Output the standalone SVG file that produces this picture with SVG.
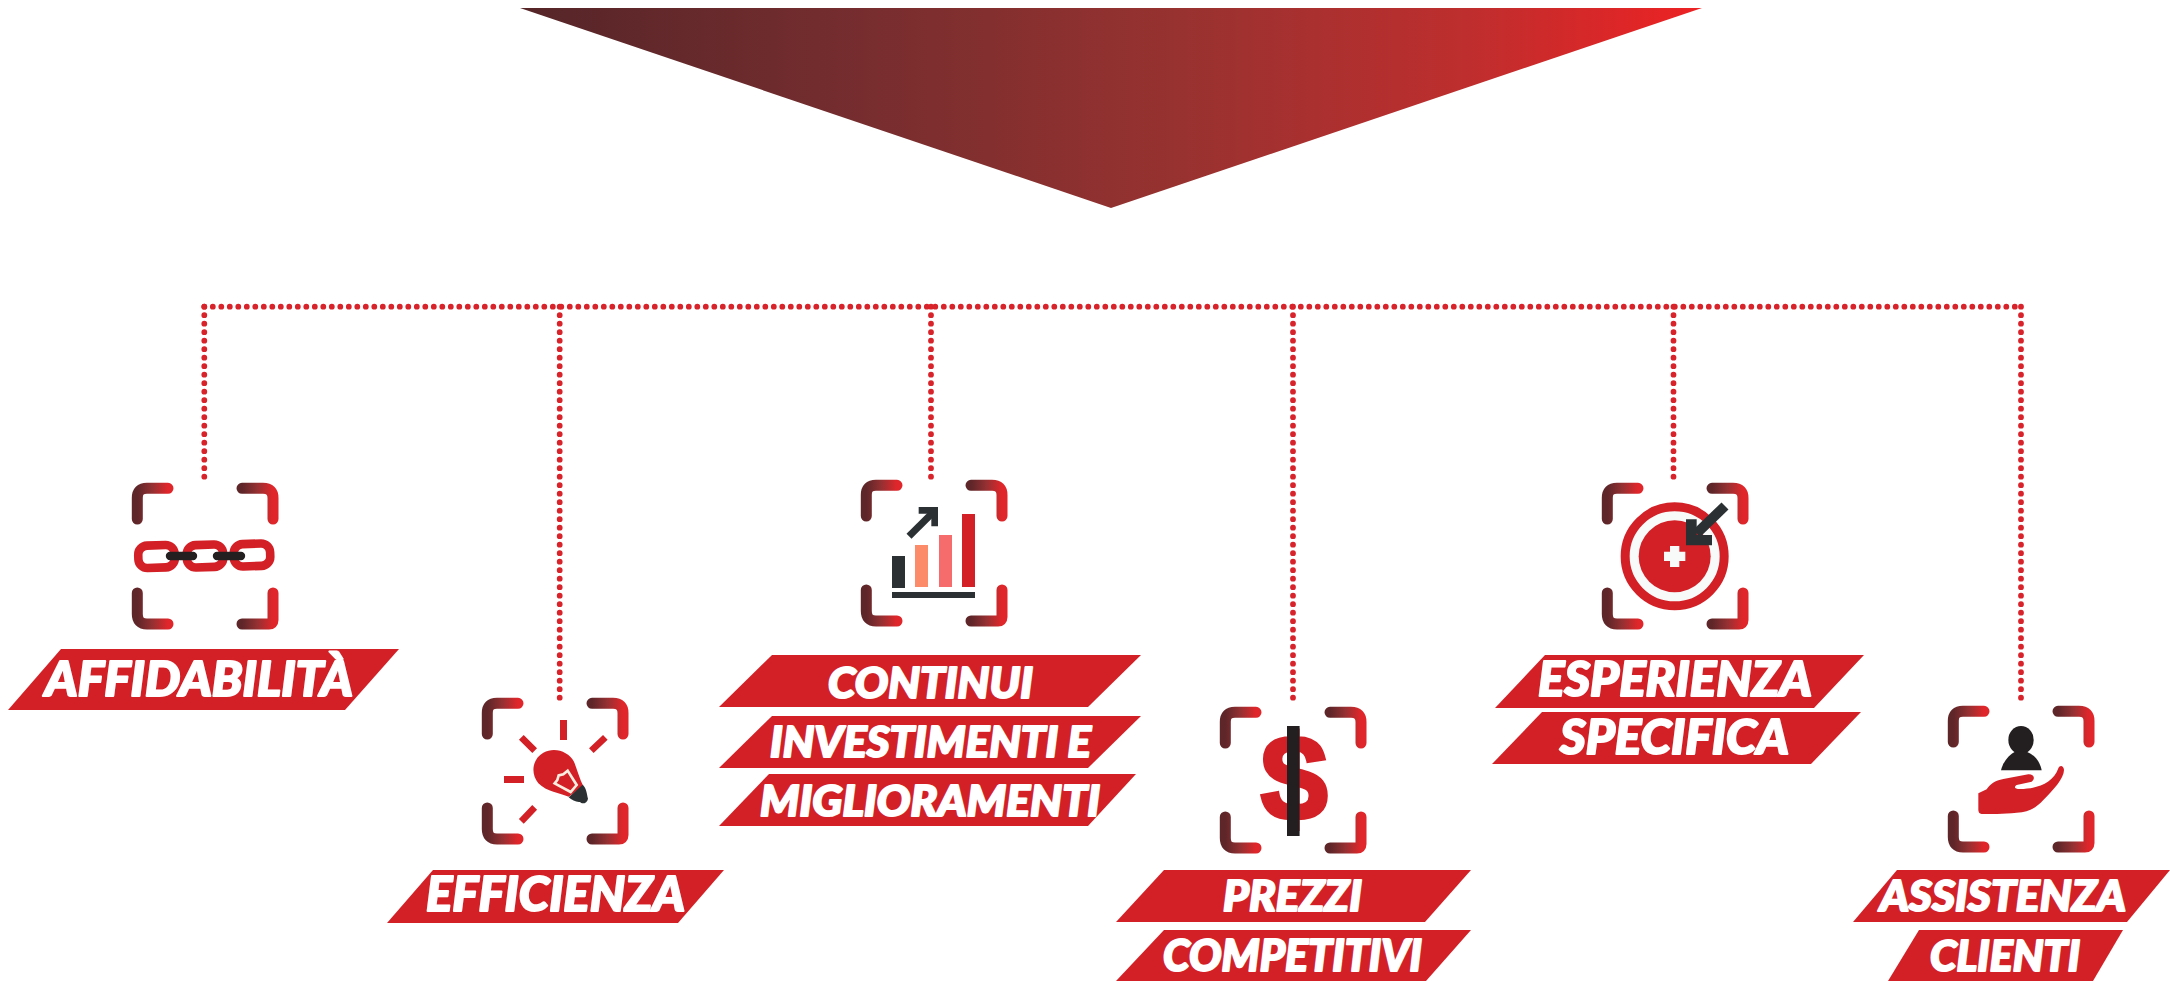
<svg xmlns="http://www.w3.org/2000/svg" xmlns:xlink="http://www.w3.org/1999/xlink" width="2170" height="981" viewBox="0 0 2170 981">
<style>
.band{fill:#d32026}
.lbl{font-family:"Lato","Roboto","Liberation Sans",sans-serif;font-weight:900;font-style:italic;fill:#fff;stroke:#fff;stroke-width:2;stroke-linejoin:round;text-anchor:start}
.corner{fill:none;stroke:url(#cg);stroke-width:11;stroke-linecap:round}
.dots{fill:none;stroke:#d9232b;stroke-width:5.8;stroke-linecap:round;stroke-dasharray:0 8.5}
.red{fill:#d32026}
.dark{fill:#2b3133}
.blk{fill:#231f20}
</style>
<defs>
<linearGradient id="tg" x1="0" x2="1" y1="0" y2="0"><stop offset="0" stop-color="#552528"/><stop offset=".25" stop-color="#722c2e"/><stop offset=".55" stop-color="#963230"/><stop offset=".8" stop-color="#be2e2e"/><stop offset="1" stop-color="#ed2224"/></linearGradient>
<linearGradient id="cg" x1="0" x2="1" y1="0" y2="0"><stop offset="0" stop-color="#5e2629"/><stop offset=".5" stop-color="#963032"/><stop offset="1" stop-color="#e0262a"/></linearGradient>
<g id="frame">
<path class="corner" d="M5.3 36V15Q5.3 5.3 15 5.3H36"/>
<path class="corner" d="M110 5.3H131Q141 5.3 141 15V36"/>
<path class="corner" d="M5.3 110V131Q5.3 141 15 141H36"/>
<path class="corner" d="M110 141H137Q141 141 141 137V110"/>
</g>
</defs>
<rect width="2170" height="981" fill="#fff"/>
<polygon id="top-triangle" points="520,8 1702,8 1111,208" fill="url(#tg)"/>
<g id="connectors">
<path class="dots" d="M204.3 306.7H2021"/>
<path class="dots" d="M204.3 306.7V477"/>
<path class="dots" d="M559.7 306.7V699"/>
<path class="dots" d="M931 306.7V477"/>
<path class="dots" d="M1293 306.7V699"/>
<path class="dots" d="M1673.5 306.7V477"/>
<path class="dots" d="M2021 306.7V699"/>
</g>
<g id="node-affidabilita">
<use xlink:href="#frame" href="#frame" transform="translate(132,483)"/>
<g fill="none" stroke="#d32026" stroke-width="8.6">
<rect x="138.3" y="545.3" width="36.4" height="22.4" rx="9" transform="rotate(-2 156.5 556.5)"/>
<rect x="186.8" y="544.8" width="36.4" height="22.4" rx="9" transform="rotate(-2 205 556)"/>
<rect x="233.8" y="543.8" width="36.4" height="22.4" rx="9" transform="rotate(-2 252 555)"/>
</g>
<path d="M170 556H193M217 556H241" stroke="#231f20" stroke-width="8.4" stroke-linecap="round" fill="none"/>
<polygon class="band" points="61,649 399,649 345,710 8,710"/>
<text class="lbl" x="45" y="696" font-size="47" textLength="308" lengthAdjust="spacingAndGlyphs">AFFIDABILITÀ</text>
</g>
<g id="node-efficienza">
<use xlink:href="#frame" href="#frame" transform="translate(482,698)"/>
<g transform="translate(380,680) scale(.33333)">
<rect class="red" x="540" y="120" width="21" height="60"/>
<rect class="red" x="372" y="288" width="60" height="21"/>
<path d="M424 172L464 212M676 172L634 212M464 382L424 424" stroke="#d32026" stroke-width="20" fill="none"/>
<path class="red" d="M566 350C540 340 500 335 475 310C450 280 458 235 490 218C525 200 565 215 582 245C590 265 600 300 610 318Z"/>
<path d="M524 310L532 300L536 286L550 283L563 272L590 315L572 336Z" fill="none" stroke="#fbeee0" stroke-width="8"/>
<path class="dark" d="M566 352L608 314C620 325 620 340 624 356C622 370 606 374 600 366C590 368 575 360 566 352Z"/>
</g>
<polygon class="band" points="433,870 724,870 678,923 387,923"/>
<text class="lbl" x="426" y="911" font-size="48" textLength="259" lengthAdjust="spacingAndGlyphs">EFFICIENZA</text>
</g>
<g id="node-continui">
<use xlink:href="#frame" href="#frame" transform="translate(861,480)"/>
<g transform="translate(710,460) scale(.33333)">
<rect class="dark" x="546" y="288" width="39" height="96"/>
<rect x="615" y="255" width="39" height="126" fill="#fc8b6a"/>
<rect x="687" y="225" width="39" height="156" fill="#f66b6b"/>
<rect class="red" x="756" y="162" width="39" height="219"/>
<rect class="dark" x="546" y="396" width="249" height="18"/>
<path d="M597 229L668 158" stroke="#2b3133" stroke-width="21" fill="none"/>
<path class="dark" d="M626 141H684V199H664V161H626Z"/>
</g>
<polygon class="band" points="772,655 1141,655 1088,707 719,707"/>
<polygon class="band" points="772,716 1141,716 1088,768 719,768"/>
<polygon class="band" points="769,774 1136,774 1088,826 719,826"/>
<text class="lbl" x="828" y="698" font-size="42" textLength="205" lengthAdjust="spacingAndGlyphs">CONTINUI</text>
<text class="lbl" x="770" y="757" font-size="42" textLength="321" lengthAdjust="spacingAndGlyphs">INVESTIMENTI E</text>
<text class="lbl" x="760" y="816" font-size="42" textLength="340" lengthAdjust="spacingAndGlyphs">MIGLIORAMENTI</text>
</g>
<g id="node-prezzi">
<use xlink:href="#frame" href="#frame" transform="translate(1220,707)"/>
<text x="1294" y="820" font-family="'Liberation Sans',sans-serif" font-weight="700" font-size="120" fill="#d32026" text-anchor="middle" stroke="#d32026" stroke-width="4">$</text>
<rect class="blk" x="1287" y="726" width="12.6" height="110"/>
<polygon class="band" points="1164,870 1471,870 1425,922 1116,922"/>
<polygon class="band" points="1164,930 1471,930 1426,981 1116,981"/>
<text class="lbl" x="1223" y="911" font-size="42" textLength="139" lengthAdjust="spacingAndGlyphs">PREZZI</text>
<text class="lbl" x="1163" y="971" font-size="43" textLength="259" lengthAdjust="spacingAndGlyphs">COMPETITIVI</text>
</g>
<g id="node-esperienza">
<use xlink:href="#frame" href="#frame" transform="translate(1602,483)"/>
<g transform="translate(1480,470) scale(.33333)">
<circle cx="584" cy="259" r="148.5" fill="#f8f9f9" stroke="#d32026" stroke-width="27"/>
<circle class="red" cx="584" cy="259" r="108"/>
<path fill="#f8f9f9" d="M570 228H598V245H616V273H598V291H570V273H552V245H570Z"/>
<path d="M735 108L650 190" stroke="#2b3133" stroke-width="30" fill="none"/>
<path class="dark" d="M618 148H650V195H696V226H618Z"/>
</g>
<polygon class="band" points="1545,655 1864,655 1814,708 1495,708"/>
<polygon class="band" points="1542,712 1861,712 1811,764 1492,764"/>
<text class="lbl" x="1538" y="696" font-size="47" textLength="274" lengthAdjust="spacingAndGlyphs">ESPERIENZA</text>
<text class="lbl" x="1560" y="754" font-size="47" textLength="229" lengthAdjust="spacingAndGlyphs">SPECIFICA</text>
</g>
<g id="node-assistenza">
<use xlink:href="#frame" href="#frame" transform="translate(1948,706)"/>
<g transform="translate(1840,690) scale(.33333)">
<ellipse class="blk" cx="543" cy="150" rx="38" ry="42"/>
<path class="blk" d="M483 241C490 212 508 194 525 185H560C585 195 600 215 605 241Z"/>
<path class="red" d="M415 310L440 298C450 282 465 272 490 267L565 253C580 252 588 265 575 275L530 285C520 292 525 297 540 297C590 297 640 280 655 235C660 222 672 228 672 240C672 265 640 300 610 330C590 352 570 365 530 368C490 372 450 372 425 372C418 372 415 365 415 360Z"/>
</g>
<polygon class="band" points="1897,870 2170,870 2127,922 1853,922"/>
<polygon class="band" points="1919,930 2123,930 2093,981 1888,981"/>
<text class="lbl" x="1880" y="911" font-size="42" textLength="246" lengthAdjust="spacingAndGlyphs">ASSISTENZA</text>
<text class="lbl" x="1930" y="971" font-size="42" textLength="150" lengthAdjust="spacingAndGlyphs">CLIENTI</text>
</g>
</svg>
